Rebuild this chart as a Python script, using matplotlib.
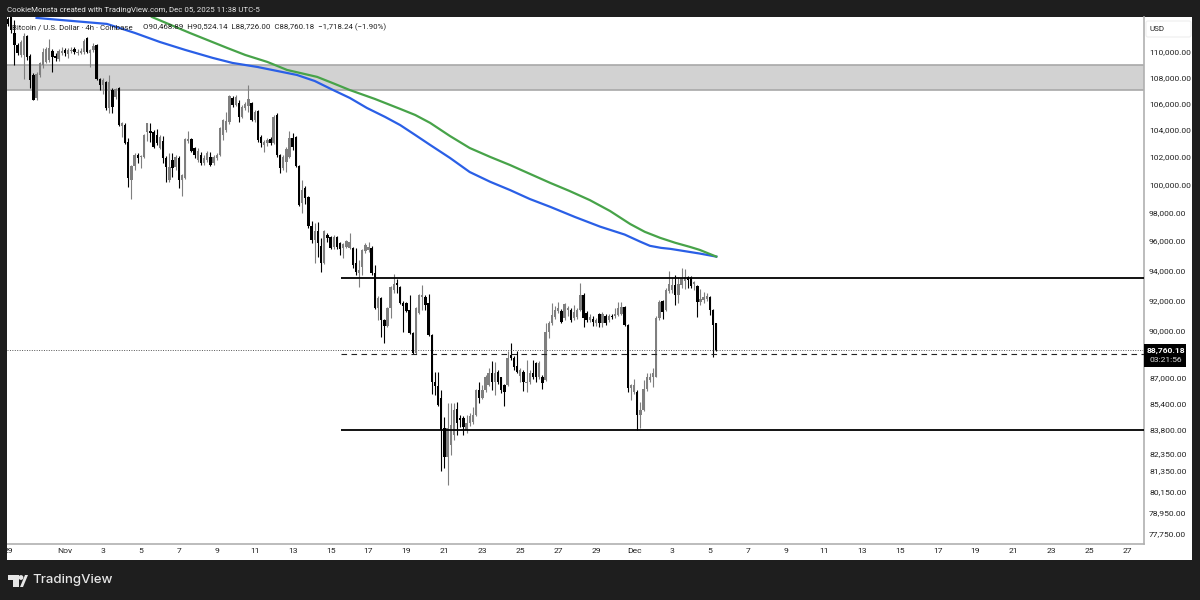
import matplotlib
matplotlib.use("Agg")
import matplotlib.pyplot as plt
import matplotlib.dates as mdates
from matplotlib.patches import Polygon, Rectangle, FancyBboxPatch, Circle
import numpy as np
import pandas as pd

plt.rcParams['font.family'] = ['Roboto', 'DejaVu Sans']

# BTC/USD 4h candles
opens = [
    112380, 112610, 112770, 111510, 110550, 109760, 109760, 111270, 109680, 108200,
    106410, 108200, 108980, 109210, 109370, 110080, 109680, 109450, 109920, 110160,
    109840, 110080, 110240, 109920, 109920, 110000, 111110, 109920, 110160, 110550,
    107880, 107410, 107650, 105650, 107030, 106490, 107180, 104290, 104370, 103100,
    100320, 101340, 102140, 101990, 101990, 103840, 103920, 103840, 103620, 102660,
    103180, 101920, 100320, 101770, 101270, 101920, 100320, 100470, 103180, 103320,
    102660, 101770, 102140, 101560, 101770, 101990, 101560, 101920, 102140, 103620,
    103990, 104590, 106410, 105880, 106030, 104970, 105650, 105800, 106030, 104740,
    105420, 103470, 102880, 103030, 103320, 103030, 105120, 102140, 101200, 101630,
    101990, 103400, 103470, 101340, 98670, 99740, 99100, 97060, 96080, 96710,
    95670, 94490, 96430, 96290, 95600, 96290, 95880, 95530, 95600, 95530,
    95530, 94490, 93830, 94240, 95330, 95400, 95530, 93830, 91460, 92140,
    90720, 90320, 91460, 92690, 93150, 92890, 91830, 91830, 91370, 89860,
    88580, 91180, 92230, 92230, 91830, 89730, 86760, 86510, 85760, 83920,
    82150, 82880, 83490, 85080, 84530, 84530, 83800, 84230, 84290, 84710,
    86260, 85760, 86260, 86570, 87330, 86760, 87390, 87020, 86570, 86570,
    88460, 88270, 87770, 87140, 87390, 86700, 86760, 87330, 87960, 87080,
    87080, 86890, 89930, 90520, 90910, 91310, 91310, 90850, 91370, 91370,
    90850, 90910, 91370, 92360, 91180, 90720, 90790, 90520, 91110, 90520,
    90980, 90720, 90980, 90980, 91050, 91110, 91570, 90390, 86390, 86130,
    86130, 84710, 85020, 86320, 86890, 87080, 87080, 90850, 91960, 91370,
    92620, 92690, 93020, 92360, 93020, 93280, 93550, 93550, 93090, 92950,
    91890, 92020, 92090, 92230, 91370, 90468.89,
]
highs = [
    112770, 112770, 112770, 112540, 110710, 110950, 111510, 111350, 109840, 108360,
    108430, 109210, 110320, 110400, 111030, 110240, 109920, 110240, 110400, 110320,
    110320, 110400, 110400, 110240, 110320, 111030, 111190, 110240, 110710, 110630,
    107970, 107970, 107720, 108200, 107180, 107180, 107260, 104590, 104520, 103400,
    101410, 102290, 102290, 102140, 103690, 104520, 104520, 103990, 104070, 103620,
    103540, 102060, 102290, 102290, 102140, 102060, 100760, 103400, 103920, 103400,
    102730, 102660, 102360, 102140, 102440, 102360, 102140, 102290, 104220, 104820,
    105350, 106640, 106570, 106640, 106260, 105880, 106110, 107410, 106110, 105500,
    105500, 103620, 103250, 103400, 103470, 105120, 105270, 102210, 102140, 102730,
    103920, 103770, 103540, 101410, 100320, 99890, 99170, 97400, 97260, 97330,
    96220, 96770, 96570, 96360, 96430, 96360, 95950, 95880, 96080, 96570,
    95600, 95530, 94700, 95460, 95880, 95950, 95670, 94350, 92290, 92230,
    90790, 91570, 92950, 93760, 93420, 92950, 91960, 91890, 92360, 89930,
    91570, 92420, 93020, 92360, 92420, 89790, 87390, 87390, 86260, 84590,
    85440, 85440, 85440, 85510, 84710, 84650, 84710, 84840, 85200, 86320,
    86760, 86570, 87200, 87640, 88080, 88020, 87520, 87080, 86630, 88710,
    89210, 88400, 88710, 87640, 87520, 88150, 87460, 88150, 88020, 88080,
    87200, 90520, 90650, 91830, 91630, 91890, 91430, 91830, 91630, 91500,
    91700, 91500, 93150, 92490, 91310, 91110, 90980, 90850, 91180, 91240,
    91110, 91110, 91110, 91500, 91890, 91890, 91630, 90450, 86630, 86950,
    86260, 85510, 86890, 87330, 87330, 87640, 90980, 92020, 92020, 92820,
    93940, 93550, 93690, 93550, 94150, 94080, 93620, 93620, 93280, 93020,
    92750, 92560, 92490, 92290, 91430, 90524.14,
]
lows = [
    112220, 112060, 111510, 108980, 109760, 109600, 107880, 109370, 107180, 106260,
    106260, 108040, 108740, 109130, 109210, 108430, 109290, 109290, 109760, 109680,
    109520, 109920, 109840, 109760, 109840, 109840, 109920, 108820, 110000, 107800,
    107030, 106720, 105500, 105270, 105270, 106340, 104290, 103470, 102950, 99820,
    98950, 101050, 101560, 101200, 101920, 103180, 103100, 102660, 102880, 102580,
    101560, 100180, 100180, 100540, 101050, 99740, 99170, 100390, 103030, 102360,
    101920, 101630, 101410, 101410, 101630, 101340, 101410, 101770, 102060, 103250,
    103840, 104440, 105730, 105800, 104590, 104890, 105500, 105350, 104660, 104590,
    103100, 102730, 102360, 102810, 102880, 102950, 101990, 100830, 101050, 100900,
    101920, 102510, 101270, 98460, 97960, 98600, 96920, 95880, 94490, 94900,
    93890, 94430, 95950, 95460, 95460, 95460, 95050, 94840, 95530, 95460,
    94150, 93690, 92890, 93690, 95190, 95260, 93690, 91430, 90720, 89600,
    89210, 90250, 90850, 92490, 92490, 91760, 89930, 91240, 89790, 88520,
    88520, 91110, 91370, 91370, 89660, 86010, 85940, 85260, 81360, 81540,
    80550, 82310, 83190, 83490, 83980, 83490, 83620, 84040, 84170, 84650,
    85440, 85690, 86130, 86510, 86260, 85940, 86630, 86070, 85260, 86510,
    88150, 87520, 87270, 86760, 86190, 86130, 86630, 86950, 86760, 86950,
    86320, 86820, 89530, 90390, 90790, 91180, 90520, 90720, 90980, 90580,
    90720, 90790, 91310, 90250, 90580, 90580, 90320, 90320, 90250, 90250,
    90390, 90580, 90790, 90850, 90980, 91050, 90320, 86130, 85630, 86010,
    83800, 83920, 84950, 86190, 86760, 86450, 87020, 90720, 90790, 91310,
    92490, 92490, 91700, 91830, 92820, 92750, 92820, 92820, 92690, 90920,
    91700, 91830, 91960, 91050, 88330, 88726.00,
]
closes = [
    112690, 112220, 111750, 110550, 109920, 110790, 111270, 109600, 107800, 106260,
    108280, 109130, 110000, 110240, 110320, 109600, 109520, 110080, 110080, 109920,
    110160, 110160, 110000, 110000, 110080, 110870, 110000, 110160, 110480, 107880,
    107410, 107800, 105650, 107650, 105730, 107110, 104370, 104520, 103030, 100470,
    101340, 102140, 101920, 102060, 103620, 104520, 103770, 102730, 103030, 103470,
    101920, 101270, 101270, 101200, 101990, 100320, 100680, 103320, 103320, 102440,
    102140, 102440, 101560, 101920, 102290, 101410, 101990, 102140, 104140, 104740,
    104660, 106570, 105880, 106490, 104970, 105730, 105960, 106340, 104740, 105350,
    103250, 103030, 103100, 103250, 103030, 104970, 102140, 101200, 101990, 102580,
    103400, 102730, 101340, 98530, 99600, 99030, 97060, 96080, 96710, 95880,
    94490, 96710, 96220, 95530, 96290, 95600, 95460, 95810, 96010, 95950,
    94350, 93890, 94010, 95390, 95740, 95600, 93830, 91460, 92140, 90720,
    90320, 91460, 92890, 93090, 93020, 91830, 91630, 91310, 89860, 88580,
    91460, 92360, 92360, 91700, 89730, 86760, 86510, 85320, 83800, 82150,
    83920, 84100, 85020, 84230, 84410, 83980, 84230, 84650, 84710, 86260,
    85760, 86260, 87080, 87330, 86760, 87330, 86760, 86260, 86130, 88270,
    88270, 87710, 87390, 87520, 86760, 86760, 87330, 87080, 87080, 87960,
    86700, 89930, 90520, 91050, 91370, 91500, 90580, 91760, 91500, 90720,
    91240, 91370, 92360, 90850, 90720, 90910, 90580, 90720, 90520, 91110,
    90520, 90980, 90910, 91110, 91500, 91570, 90390, 86390, 86570, 86570,
    84710, 85020, 86320, 87020, 87080, 87330, 90850, 91890, 91240, 92690,
    93090, 93020, 92360, 93090, 93480, 93550, 93350, 92950, 93220, 91890,
    92090, 92230, 92290, 91370, 90390, 88760.18,
]

# moving averages, read at a handful of dates
ma_blue_dates = ["2025-10-30 12:00", "2025-11-03 05:00", "2025-11-04 16:30", "2025-11-06 00:00",
                 "2025-11-07 08:00", "2025-11-08 19:00", "2025-11-09 20:00", "2025-11-11 03:00",
                 "2025-11-13 05:30", "2025-11-14 04:00", "2025-11-15 03:00", "2025-11-16 00:30",
                 "2025-11-16 22:00", "2025-11-17 21:00", "2025-11-18 16:00", "2025-11-19 11:00",
                 "2025-11-20 06:00", "2025-11-21 07:00", "2025-11-22 08:00", "2025-11-23 10:00",
                 "2025-11-24 11:00", "2025-11-25 12:00", "2025-11-26 14:00", "2025-11-27 21:00",
                 "2025-11-29 05:00", "2025-11-30 12:00", "2025-12-01 08:00", "2025-12-01 20:00",
                 "2025-12-02 10:00", "2025-12-02 22:00", "2025-12-04 11:00", "2025-12-05 08:00"]
ma_blue = [112725, 112240, 111510, 110790, 110160, 109525, 109130, 108820,
           108190, 107720, 107030, 106410, 105650, 104970, 104360, 103620,
           102875, 101920, 100890, 100180, 99590, 98950, 98390, 97680,
           97000, 96450, 95950, 95670, 95530, 95460, 95140, 94930]
ma_green_dates = ["2025-11-05 14:00", "2025-11-07 14:00", "2025-11-09 13:00", "2025-11-10 12:00",
                  "2025-11-11 16:00", "2025-11-12 17:00", "2025-11-14 07:00", "2025-11-15 05:30",
                  "2025-11-16 00:00", "2025-11-17 08:00", "2025-11-18 16:00", "2025-11-19 11:00",
                  "2025-11-20 06:00", "2025-11-21 07:00", "2025-11-22 08:00", "2025-11-23 10:00",
                  "2025-11-24 11:00", "2025-11-25 12:00", "2025-11-26 14:00", "2025-11-27 14:00",
                  "2025-11-28 16:00", "2025-11-29 17:30", "2025-11-30 19:00", "2025-12-01 13:30",
                  "2025-12-02 09:00", "2025-12-03 04:00", "2025-12-03 23:00", "2025-12-04 11:00",
                  "2025-12-05 08:00"]
ma_green = [112800, 111510, 110320, 109760, 109210, 108580, 108040, 107490,
            107030, 106340, 105580, 105120, 104520, 103540, 102650, 101990,
            101400, 100760, 100100, 99530, 98870, 98100, 97185, 96640,
            96220, 95880, 95590, 95390, 94930]

# drawn levels
zone_low, zone_high = 107030, 108975
resistance = 93450
support = 83820
dashed_level = 88510
last_price = 88760.18
levels_start = "2025-11-15 13:00"

price_ticks = [110000, 108000, 106000, 104000, 102000, 100000, 98000, 96000, 94000,
               92000, 90000, 87000, 85400, 83800, 82350, 81350, 80150, 78950, 77750]
date_ticks = ["2025-10-29", "2025-11-01", "2025-11-03", "2025-11-05", "2025-11-07", "2025-11-09",
              "2025-11-11", "2025-11-13", "2025-11-15", "2025-11-17", "2025-11-19", "2025-11-21",
              "2025-11-23", "2025-11-25", "2025-11-27", "2025-11-29", "2025-12-01", "2025-12-03",
              "2025-12-05", "2025-12-07", "2025-12-09", "2025-12-11", "2025-12-13", "2025-12-15",
              "2025-12-17", "2025-12-19", "2025-12-21", "2025-12-23", "2025-12-25", "2025-12-27"]
date_labels = ["29", "Nov", "3", "5", "7", "9", "11", "13", "15", "17", "19", "21", "23", "25", "27",
               "29", "Dec", "3", "5", "7", "9", "11", "13", "15", "17", "19", "21", "23", "25", "27"]

DARK = "#1e1e1e"
fig = plt.figure(figsize=(12, 6), dpi=100, facecolor=DARK)

# overlay in figure pixels for the window furniture
chrome = fig.add_axes([0, 0, 1, 1], zorder=0)
chrome.set_xlim(0, 1200)
chrome.set_ylim(600, 0)
chrome.axis("off")
chrome.add_patch(Rectangle((7, 17), 1185, 543, facecolor="white", edgecolor="none"))

ax = fig.add_axes([7 / 1200, 1 - 544 / 600, 1137 / 1200, 527 / 600], zorder=1)
ax.set_yscale("log")
ax.set_ylim(77190, 112800)

nov1 = mdates.date2num(pd.Timestamp("2025-11-01"))
ax.set_xlim(nov1 + (7 - 65) / 18.97, nov1 + (1144 - 65) / 18.97)

dates = pd.date_range(end="2025-12-05 08:00", periods=len(closes), freq="4h")
x = mdates.date2num(dates)
o, h, l, c = map(np.array, (opens, highs, lows, closes))
colors = np.where(c >= o, "#7f7f7f", "#000000")

ax.axhspan(zone_low, zone_high, facecolor="#d2d2d2", edgecolor="none", zorder=1)
ax.axhline(zone_low, color="#a8a8a8", lw=1.2, zorder=1)
ax.axhline(zone_high, color="#a8a8a8", lw=1.2, zorder=1)

ax.vlines(x, l, h, colors=colors, lw=0.8, zorder=2)
ax.bar(x, np.abs(c - o), bottom=np.minimum(o, c), width=0.125, color=colors, linewidth=0, zorder=3)

ax.plot(pd.to_datetime(ma_blue_dates), ma_blue, color="#2a5fe6", lw=1.6, zorder=4)
ax.plot(pd.to_datetime(ma_green_dates), ma_green, color="#47a349", lw=1.6, zorder=4)

start = mdates.date2num(pd.Timestamp(levels_start))
right = ax.get_xlim()[1]
ax.hlines([resistance, support], start, right, color="black", lw=1.3, zorder=5)
ax.hlines(dashed_level, start, right, color="#222222", lw=0.8, linestyles=(0, (5, 4)), zorder=5)
ax.axhline(last_price, color="#555555", lw=0.7, ls=(0, (1, 1.5)), zorder=2)

ax.yaxis.tick_right()
ax.set_yticks(price_ticks)
ax.set_yticklabels([f"{p:,.2f}" for p in price_ticks])
ax.yaxis.set_minor_locator(matplotlib.ticker.NullLocator())
ax.set_xticks(mdates.date2num(pd.to_datetime(date_ticks)))
ax.set_xticklabels(date_labels)
ax.tick_params(axis="both", length=0, labelsize=6.1, labelcolor="#222222")
ax.tick_params(axis="y", pad=3.6)
ax.tick_params(axis="x", pad=3)
for side in ("top", "left"):
    ax.spines[side].set_visible(False)
ax.spines["right"].set_color("#b0b0b0")
ax.spines["bottom"].set_color("#b0b0b0")
ax.spines["right"].set_linewidth(1.2)
ax.spines["bottom"].set_linewidth(1.2)

# everything drawn over the plot
top = fig.add_axes([0, 0, 1, 1], zorder=2)
top.set_xlim(0, 1200)
top.set_ylim(600, 0)
top.axis("off")
top.patch.set_alpha(0)

top.add_patch(Rectangle((0, 0), 7, 600, facecolor=DARK, edgecolor="none"))
top.text(7, 10, "CookieMonsta created with TradingView.com, Dec 05, 2025 11:38 UTC-5",
         color="#e4e4e4", fontsize=5.7, va="center", ha="left")
top.text(12, 27, "Bitcoin / U.S. Dollar · 4h · Coinbase", color="#222222", fontsize=5.7, va="center")
top.text(143, 27, "O90,468.89  H90,524.14  L88,726.00  C88,760.18  −1,718.24 (−1.90%)",
         color="#222222", fontsize=5.7, va="center")

top.add_patch(FancyBboxPatch((1146, 21), 45, 16, boxstyle="round,pad=0,rounding_size=2",
                             facecolor="white", edgecolor="#eeeeee", lw=0.8))
top.text(1157.5, 29, "USD", color="#222222", fontsize=5.8, va="center", ha="center")

top.add_patch(Rectangle((1144, 344), 42, 23, facecolor="black", edgecolor="none"))
top.text(1165.5, 351, f"{last_price:,.2f}", color="white", fontsize=6.1, va="center", ha="center", weight="bold")
top.text(1165.5, 359.5, "03:21:56", color="#d8d8d8", fontsize=6.1, va="center", ha="center")

# TradingView mark and wordmark
LOGO = "#e6e6e6"
top.add_patch(Polygon([(8, 575), (19, 575), (19, 587), (13, 587), (13, 580), (8, 580)], facecolor=LOGO, edgecolor="none"))
top.add_patch(Circle((21, 577.5), 2.4, facecolor=LOGO, edgecolor="none"))
top.add_patch(Polygon([(20, 587), (25, 575), (28, 575), (23, 587)], facecolor=LOGO, edgecolor="none"))
top.text(32, 580.5, "TradingView", color=LOGO, fontsize=9.5, family="Inter", weight="medium", va="center")

fig.savefig("out.png", dpi=100, facecolor=fig.get_facecolor())
